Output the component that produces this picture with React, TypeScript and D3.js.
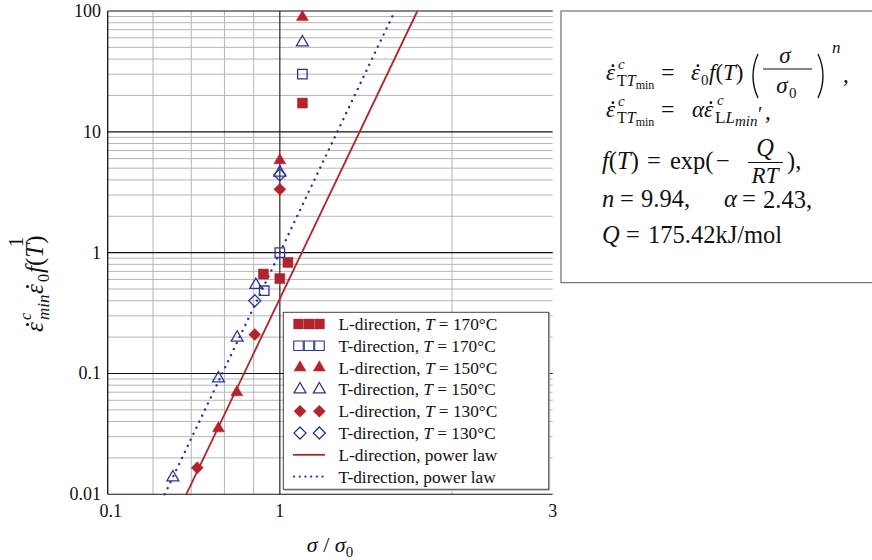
import React from 'react';
import * as d3 from 'd3';

const W = 872;
const H = 560;

// values
const xTickValues = [0.5, 1, 3];
const xTickLabels = ['0.1', '1', '3'];
const xMinorGrid = [0.6, 0.7, 0.8, 0.9, 2];
const xMajorGrid = [1];
const yTickValues = [0.01, 0.1, 1, 10, 100];
const yTickLabels = ['0.01', '0.1', '1', '10', '100'];

// L-direction (filled) and T-direction (open) measurements
const lSquareX = [1.095, 1.033, 0.936, 1.0];
const lSquareY = [17.3, 0.83, 0.665, 0.61];
const tSquareX = [1.095, 1.0, 0.939];
const tSquareY = [30, 1.0, 0.484];
const lTriX = [1.095, 1.0, 0.841, 0.781];
const lTriY = [89, 5.8, 0.0698, 0.0351];
const tTriX = [1.095, 1.0, 0.908, 0.842, 0.781, 0.65];
const tTriY = [55, 4.6, 0.54, 0.198, 0.091, 0.0138];
const lDiaX = [1.0, 0.904, 0.717];
const lDiaY = [3.34, 0.21, 0.0166];
const tDiaX = [1.0, 0.904];
const tDiaY = [4.4, 0.4];

// power-law fit lines (end points)
const lLawX = [0.686, 1.74];
const lLawY = [0.01, 100];
const tLawX = [0.629, 1.589];
const tLawY = [0.01, 100];

const legendLabels = [
  ['L-direction, ', 'T', ' = 170°C'],
  ['T-direction, ', 'T', ' = 170°C'],
  ['L-direction, ', 'T', ' = 150°C'],
  ['T-direction, ', 'T', ' = 150°C'],
  ['L-direction, ', 'T', ' = 130°C'],
  ['T-direction, ', 'T', ' = 130°C'],
  ['L-direction, power law', '', ''],
  ['T-direction, power law', '', ''],
];

const RED = '#b3232b';
const BLUE = '#2f3396';
const GRID = '#b5b5b5';
const INK = '#111';
const FONT = '"Liberation Serif", "Times New Roman", serif';

const left = 107.7, right = 552.7, top = 11, bottom = 494.3;

const x = d3.scaleLog().domain([0.5, 3]).range([left, right]);
const y = d3.scaleLog().domain([0.01, 100]).range([bottom, top]);

const sq = d3.symbol().type(d3.symbolSquare).size(100)()!;
const sqOpen = d3.symbol().type(d3.symbolSquare).size(90)()!;
const tri = d3.symbol().type(d3.symbolTriangle).size(62)()!;
const dia = d3.symbol().type(d3.symbolSquare).size(72)()!;

const yMinor: number[] = [];
[0.01, 0.1, 1, 10].forEach(d => {
  for (let k = 2; k <= 9; k++) yMinor.push(d * k);
});

const line = d3.line<[number, number]>().x(d => x(d[0])).y(d => y(d[1]));

type MarkProps = { xs: number[]; ys: number[]; path: string; filled: boolean; color: string; rotate?: boolean };
const Marks = ({ xs, ys, path, filled, color, rotate }: MarkProps) => (
  <g>
    {xs.map((v, i) => (
      <path
        key={i}
        d={path}
        transform={`translate(${x(v)},${y(ys[i])})${rotate ? ' rotate(45)' : ''}`}
        fill={filled ? color : 'none'}
        stroke={color}
        strokeWidth={filled ? 0.5 : 1.3}
      />
    ))}
  </g>
);

// epsilon with a dot above it
const Eps = ({ px, py, size = 22 }: { px: number; py: number; size?: number }) => (
  <g>
    <text x={px} y={py} fontSize={size} fontStyle="italic">ε</text>
    <circle cx={px + size * 0.3} cy={py - size * 0.62} r={size * 0.06} fill={INK} />
  </g>
);

export default function App() {
  const legX = 283.3, legY = 312.3, legW = 265.4, legH = 177;
  const rowY = (i: number) => 324 + i * 21.8;
  const EQ = 24.5;

  return (
    <svg width={W} height={H} style={{ position: 'absolute', left: 0, top: 0, background: '#fff' }} fontFamily={FONT}>
      {/* grid */}
      {yMinor.map(v => (
        <line key={'ym' + v} x1={left} x2={right} y1={y(v)} y2={y(v)} stroke={GRID} strokeWidth={1} />
      ))}
      {xMinorGrid.map(v => (
        <line key={'xm' + v} x1={x(v)} x2={x(v)} y1={top} y2={bottom} stroke={GRID} strokeWidth={1} />
      ))}
      {yTickValues.map(v => (
        <line key={'yM' + v} x1={left} x2={right} y1={y(v)} y2={y(v)} stroke={INK} strokeWidth={1.1} />
      ))}
      {xMajorGrid.map(v => (
        <line key={'xM' + v} x1={x(v)} x2={x(v)} y1={top} y2={bottom} stroke={INK} strokeWidth={1.1} />
      ))}
      <line x1={left} x2={left} y1={top} y2={bottom} stroke={INK} strokeWidth={1.3} />

      {/* tick labels */}
      {yTickValues.map((v, i) => (
        <text key={'yl' + v} x={101} y={y(v) + 6} fontSize={18} textAnchor="end" fill={INK}>{yTickLabels[i]}</text>
      ))}
      {xTickValues.map((v, i) => (
        <text key={'xl' + v} x={x(v) + (i === 0 ? 3 : 0)} y={517} fontSize={18} textAnchor="middle" fill={INK}>{xTickLabels[i]}</text>
      ))}

      {/* axis titles */}
      <text x={330} y={552} fontSize={22} textAnchor="middle" fill={INK}>
        <tspan fontStyle="italic">σ</tspan> / <tspan fontStyle="italic">σ</tspan>
        <tspan fontSize={15} dy={5}>0</tspan>
      </text>
      <g transform="translate(23,242) rotate(-90)" fill={INK}>
        <text x={0} y={0} fontSize={22} textAnchor="middle">1</text>
      </g>
      <g transform="translate(43,265) rotate(-90)" fill={INK}>
        <Eps px={-67} py={0} size={25} />
        <text x={-55} y={-12} fontSize={16} fontStyle="italic">c</text>
        <text x={-55} y={6} fontSize={17} fontStyle="italic">min</text>
        <Eps px={-29} py={0} size={25} />
        <text x={-17} y={6} fontSize={16}>0</text>
        <text x={-8} y={0} fontSize={25}>
          <tspan fontStyle="italic">f</tspan>(<tspan fontStyle="italic">T</tspan>)
        </text>
      </g>

      {/* power laws */}
      <defs>
        <clipPath id="plot">
          <rect x={left} y={top - 2} width={right - left} height={bottom - top + 6} />
        </clipPath>
      </defs>
      <g clipPath="url(#plot)">
        <path d={line(lLawX.map((v, i) => [v, lLawY[i]]))!} stroke={RED} strokeWidth={1.8} fill="none" />
        <path d={line(tLawX.map((v, i) => [v, tLawY[i]]))!} stroke={BLUE} strokeWidth={2.4} fill="none"
          strokeDasharray="0.1 6.6" strokeLinecap="round" />
      </g>

      {/* markers */}
      <Marks xs={lSquareX} ys={lSquareY} path={sq} filled color={RED} />
      <Marks xs={tSquareX} ys={tSquareY} path={sqOpen} filled={false} color={BLUE} />
      <Marks xs={lTriX} ys={lTriY} path={tri} filled color={RED} />
      <Marks xs={tTriX} ys={tTriY} path={tri} filled={false} color={BLUE} />
      <Marks xs={lDiaX} ys={lDiaY} path={dia} filled color={RED} rotate />
      <Marks xs={tDiaX} ys={tDiaY} path={dia} filled={false} color={BLUE} rotate />

      {/* legend */}
      <rect x={legX + 1} y={legY + 1} width={legW} height={legH} fill="none" stroke="#bbb" strokeWidth={1} />
      <rect x={legX} y={legY} width={legW} height={legH} fill="#fff" stroke="#444" strokeWidth={1} />
      {[298.5, 309, 319.5].map(cx => (
        <g key={'ls' + cx}>
          <path d={sq} transform={`translate(${cx},${rowY(0)})`} fill={RED} stroke={RED} strokeWidth={0.3} />
          <path d={sqOpen} transform={`translate(${cx},${rowY(1)})`} fill="none" stroke={BLUE} strokeWidth={1.1} />
        </g>
      ))}
      {[300, 319.3].map(cx => (
        <g key={'lt' + cx}>
          <path d={tri} transform={`translate(${cx},${rowY(2)})`} fill={RED} stroke={RED} strokeWidth={0.5} />
          <path d={tri} transform={`translate(${cx},${rowY(3)})`} fill="none" stroke={BLUE} strokeWidth={1.3} />
          <path d={dia} transform={`translate(${cx},${rowY(4)}) rotate(45)`} fill={RED} stroke={RED} strokeWidth={0.5} />
          <path d={dia} transform={`translate(${cx},${rowY(5)}) rotate(45)`} fill="none" stroke={BLUE} strokeWidth={1.3} />
        </g>
      ))}
      <line x1={293} x2={325} y1={rowY(6)} y2={rowY(6)} stroke={RED} strokeWidth={1.8} />
      <line x1={294} x2={323} y1={rowY(7)} y2={rowY(7)} stroke={BLUE} strokeWidth={2.2}
        strokeDasharray="0.1 5.6" strokeLinecap="round" />
      {legendLabels.map((l, i) => (
        <text key={'lg' + i} x={338.5} y={rowY(i) + 6} fontSize={17.3} fill={INK}>
          {l[0]}<tspan fontStyle="italic">{l[1]}</tspan>{l[2]}
        </text>
      ))}

      {/* equation box */}
      <rect x={561} y={11} width={330} height={271.7} fill="#fff" stroke="#555" strokeWidth={1} />
      <g fill={INK}>
        {/* line 1 */}
        <Eps px={606} py={80} size={23} />
        <text x={618} y={69} fontSize={15} fontStyle="italic">c</text>
        <text x={617} y={86} fontSize={16}>T<tspan fontStyle="italic">T</tspan>
          <tspan fontSize={12} dy={3}>min</tspan></text>
        <text x={661} y={80} fontSize={24}>=</text>
        <Eps px={691} py={80} size={23} />
        <text x={701} y={85} fontSize={15}>0</text>
        <text x={709} y={80} fontSize={23}><tspan fontStyle="italic">f</tspan>(<tspan fontStyle="italic">T</tspan>)</text>
        <path d="M758,54 Q748,76 758,98" fill="none" stroke={INK} strokeWidth={1.4} />
        <text x={785} y={63} fontSize={23} fontStyle="italic" textAnchor="middle">σ</text>
        <line x1={763} x2={812} y1={69} y2={69} stroke={INK} strokeWidth={1.1} />
        <text x={782} y={93} fontSize={23} fontStyle="italic" textAnchor="middle">σ</text>
        <text x={789} y={98} fontSize={15}>0</text>
        <path d="M818,54 Q828,76 818,98" fill="none" stroke={INK} strokeWidth={1.4} />
        <text x={832} y={53} fontSize={17} fontStyle="italic">n</text>
        <text x={843} y={82} fontSize={23}>,</text>

        {/* line 2 */}
        <Eps px={606} py={117} size={23} />
        <text x={618} y={106} fontSize={15} fontStyle="italic">c</text>
        <text x={617} y={123} fontSize={16}>T<tspan fontStyle="italic">T</tspan>
          <tspan fontSize={12} dy={3}>min</tspan></text>
        <text x={661} y={117} fontSize={24}>=</text>
        <text x={692} y={117} fontSize={23} fontStyle="italic">α</text>
        <Eps px={704} py={117} size={23} />
        <text x={717} y={105} fontSize={15} fontStyle="italic">c</text>
        <text x={715} y={123} fontSize={17}>L<tspan fontStyle="italic">L</tspan></text>
        <text x={735} y={126} fontSize={15} fontStyle="italic">min</text>
        <text x={758} y={121} fontSize={20}>′</text>
        <text x={765} y={119} fontSize={23}>,</text>

        {/* line 3 */}
        <text x={602} y={169} fontSize={EQ}>
          <tspan fontStyle="italic">f</tspan>(<tspan fontStyle="italic">T</tspan>)
        </text>
        <text x={647} y={169} fontSize={EQ}>=</text>
        <text x={670} y={169} fontSize={EQ}>exp(</text>
        <text x={716} y={169} fontSize={EQ}>−</text>
        <text x={765} y={156} fontSize={EQ} fontStyle="italic" textAnchor="middle">Q</text>
        <line x1={748} x2={783} y1={162.5} y2={162.5} stroke={INK} strokeWidth={1.1} />
        <text x={765} y={183} fontSize={23} fontStyle="italic" textAnchor="middle">RT</text>
        <text x={787} y={169} fontSize={EQ}>),</text>

        {/* line 4 */}
        <text x={602} y={207} fontSize={EQ} fontStyle="italic">n</text>
        <text x={620} y={207} fontSize={EQ}>=</text>
        <text x={641} y={207} fontSize={EQ}>9.94,</text>
        <text x={724} y={207} fontSize={EQ} fontStyle="italic">α</text>
        <text x={742} y={207} fontSize={EQ}>=</text>
        <text x={763} y={208} fontSize={EQ}>2.43,</text>

        {/* line 5 */}
        <text x={602} y={243} fontSize={EQ} fontStyle="italic">Q</text>
        <text x={626} y={243} fontSize={EQ}>=</text>
        <text x={648} y={243} fontSize={EQ}>175.42kJ/mol</text>
      </g>
    </svg>
  );
}
